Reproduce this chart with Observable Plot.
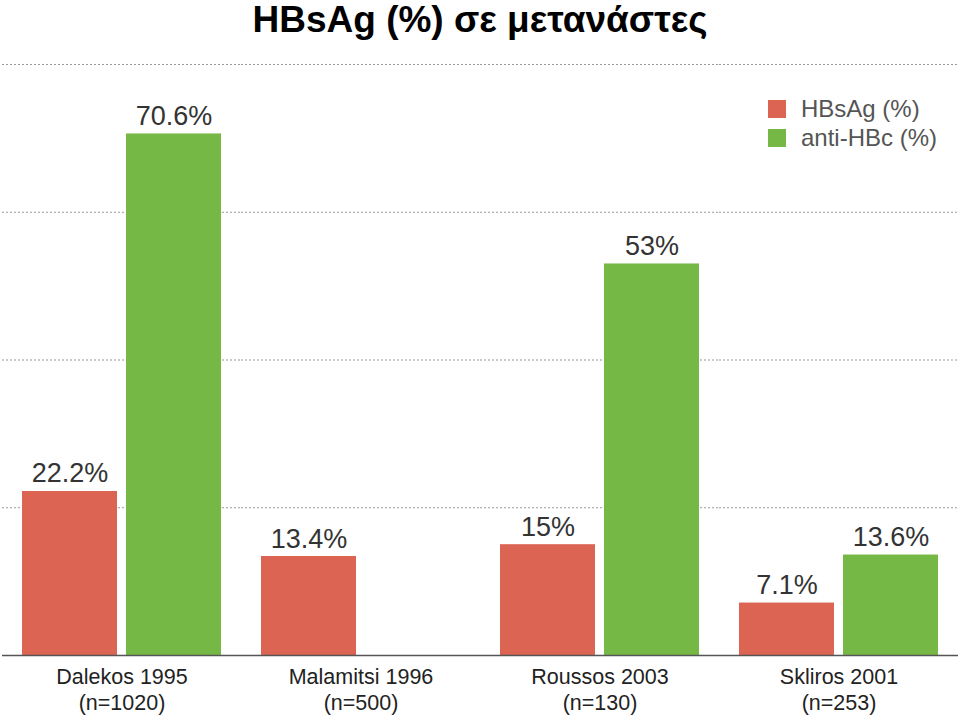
<!DOCTYPE html>
<html>
<head>
<meta charset="utf-8">
<script src="https://cdn.jsdelivr.net/npm/d3@7"></script>
<script src="https://cdn.jsdelivr.net/npm/@observablehq/plot@0.6"></script>
<style>
  body { margin: 0; background: #fff; font-family: "Liberation Sans", Arial, sans-serif; }
  #wrap { position: relative; width: 960px; height: 717px; }
  #title { height: 50px; font-size: 37px; line-height: 40px; font-weight: bold; text-align: center; color: #000; padding-top: 0px; box-sizing: border-box; }
  #legend { position: absolute; left: 768px; top: 94px; font-size: 24px; color: #555; }
  .item { display: flex; align-items: center; height: 29px; }
  .sw { width: 18px; height: 18px; margin-right: 15px; }
  svg text.val { text-shadow: 0 1px 1px rgba(0,0,0,0.25); }
</style>
</head>
<body>
<div id="wrap">
  <div id="title">HBsAg (%) σε μετανάστες</div>
  <div id="chart"></div>
  <div id="legend"></div>
</div>
<script>
const studies = ["Dalekos 1995", "Malamitsi 1996", "Roussos 2003", "Skliros 2001"];
const sampleSizes = ["(n=1020)", "(n=500)", "(n=130)", "(n=253)"];
const series = ["HBsAg (%)", "anti-HBc (%)"];
const hbsagValues = [22.2, 13.4, 15, 7.1];
const antiHbcValues = [70.6, null, 53, 13.6];
const valueLabels = [["22.2%", "70.6%"], ["13.4%", null], ["15%", "53%"], ["7.1%", "13.6%"]];
const colors = ["#dc6452", "#76b845"];
const gridTicks = [20, 40, 60, 80];

const data = [];
studies.forEach((s, i) => {
  [hbsagValues[i], antiHbcValues[i]].forEach((v, j) => {
    if (v != null) data.push({study: s, series: series[j], value: v, label: valueLabels[i][j]});
  });
});

const chart = Plot.plot({
  width: 960,
  height: 667,
  marginTop: 14,
  marginBottom: 62,
  marginLeft: 2,
  marginRight: 2,
  style: {fontFamily: "Liberation Sans, Arial, sans-serif", background: "#fff"},
  fx: {domain: studies, padding: 0, label: null},
  x: {domain: series, axis: null, paddingInner: 0.0857, paddingOuter: 0.181},
  y: {domain: [0, 80], axis: null},
  color: {domain: series, range: colors},
  marks: [
    Plot.ruleY(gridTicks, {stroke: "#999", strokeDasharray: "2,2", strokeWidth: 1}),
    Plot.barY(data, {fx: "study", x: "series", y: "value", fill: "series"}),
    Plot.ruleY([0], {stroke: "#555", strokeWidth: 1.5}),
    Plot.text(data, {fx: "study", x: "series", y: "value", text: "label", lineAnchor: "bottom", dy: -9, fontSize: 27, fill: "#333", className: "val"}),
    Plot.axisFx({anchor: "bottom", label: null, tickSize: 0, tickPadding: 10, fontSize: 21.5, lineHeight: 1.22, fill: "#222",
      tickFormat: d => d + "\n" + sampleSizes[studies.indexOf(d)]})
  ]
});
document.getElementById("chart").appendChild(chart);

const legend = document.getElementById("legend");
series.forEach((s, i) => {
  const row = document.createElement("div");
  row.className = "item";
  const sw = document.createElement("div");
  sw.className = "sw";
  sw.style.background = colors[i];
  const t = document.createElement("span");
  t.textContent = s;
  row.appendChild(sw);
  row.appendChild(t);
  legend.appendChild(row);
});
</script>
</body>
</html>
